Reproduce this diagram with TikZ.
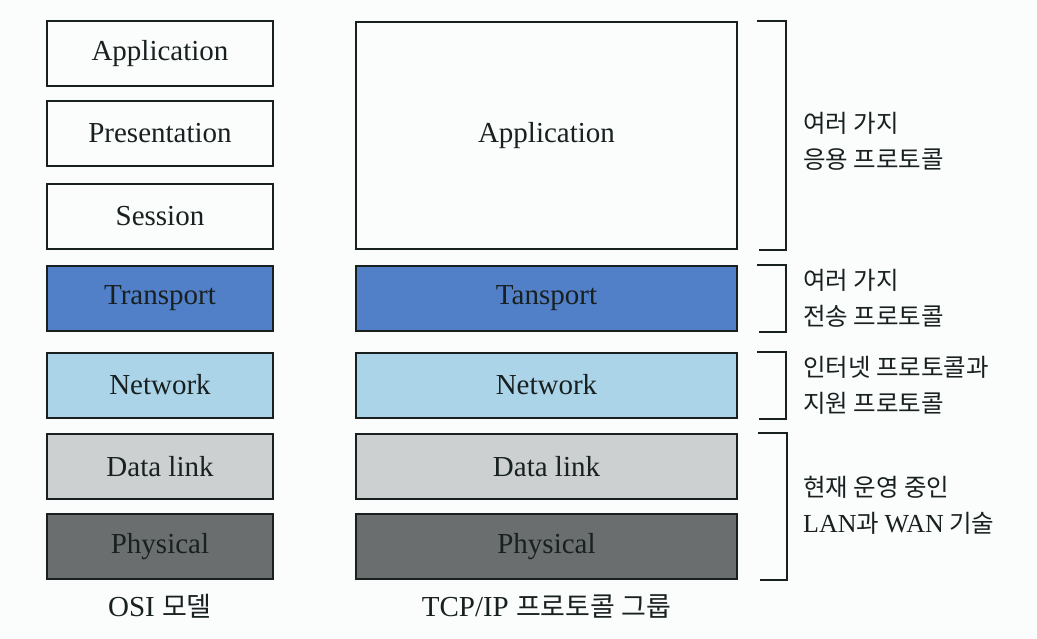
\documentclass[tikz,border=0pt]{standalone}
\usepackage{fontspec}
\setmainfont{Liberation Serif}
\newfontfamily\kr{Noto Sans CJK KR}
\usetikzlibrary{calc}
\definecolor{bg}{RGB}{251,252,252}
\definecolor{ink}{RGB}{24,32,32}
\definecolor{transp}{RGB}{82,128,200}
\definecolor{netw}{RGB}{172,212,232}
\definecolor{dlink}{RGB}{204,208,208}
\definecolor{phys}{RGB}{106,110,110}
\begin{document}
\begin{tikzpicture}[x=1pt,y=-1pt,
  layer/.style={draw=ink,line width=2pt,rectangle,inner sep=0pt,
    font=\fontsize{29}{32}\selectfont,text=ink},
  osi/.style={layer,minimum width=226pt,minimum height=65pt},
  tcp/.style={layer,minimum width=381pt,minimum height=65pt},
  brk/.style={draw=ink,line width=2pt},
  side/.style={anchor=west,align=left,font=\kr\fontsize{24.5}{36}\selectfont,text=ink,inner sep=0pt},
  caption/.style={font=\fontsize{29}{32}\selectfont,text=ink,inner sep=0pt}]
\fill[bg] (0,0) rectangle (1037,639);
\useasboundingbox (0,0) rectangle (1037,639);
% OSI
\node[osi] (oapp) at (160,54) {Application};
\node[osi] (opre) at (160,133.5) {Presentation};
\node[osi] (oses) at (160,216.5) {Session};
\node[osi,fill=transp] (otra) at (160,298.5) {Transport};
\node[osi,fill=netw] (onet) at (160,385) {Network};
\node[osi,fill=dlink] (odl) at (160,466.5) {Data link};
\node[osi,fill=phys] (ophy) at (160,546.5) {Physical};
% TCP/IP
\node[tcp,minimum height=227pt] (tapp) at (546.5,135.5) {Application};
\node[tcp,fill=transp] (ttra) at (546.5,298.5) {Tansport};
\node[tcp,fill=netw] (tnet) at (546.5,385) {Network};
\node[tcp,fill=dlink] (tdl) at (546.5,466.5) {Data link};
\node[tcp,fill=phys] (tphy) at (546.5,546.5) {Physical};
% brackets
\draw[brk] ($(tapp.north east)+(19,0)$) -- ($(tapp.north east)+(48,0)$) -- ($(tapp.south east)+(48,0)$) -- ($(tapp.south east)+(21,0)$);
\draw[brk] ($(ttra.north east)+(19,0)$) -- ($(ttra.north east)+(48,0)$) -- ($(ttra.south east)+(48,0)$) -- ($(ttra.south east)+(21,0)$);
\draw[brk] ($(tnet.north east)+(19,0)$) -- ($(tnet.north east)+(48,0)$) -- ($(tnet.south east)+(48,0)$) -- ($(tnet.south east)+(21,0)$);
\draw[brk] ($(tdl.north east)+(20,0)$) -- ($(tdl.north east)+(49,0)$) -- ($(tphy.south east)+(49,0)$) -- ($(tphy.south east)+(22,0)$);
% side labels
\node[side] (l1) at (803,141.5) {여러 가지\\응용 프로토콜};
\node[side] (l2) at (803,298.5) {여러 가지\\전송 프로토콜};
\node[side] (l3) at (803,385) {인터넷 프로토콜과\\지원 프로토콜};
\node[side] (l4) at (803,505) {현재 운영 중인\\{\rmfamily\fontsize{26}{36}\selectfont LAN}과 {\rmfamily\fontsize{26}{36}\selectfont WAN} 기술};
% captions
\node[caption] (c1) at (160,606) {OSI {\kr\fontsize{27}{30}\selectfont 모델}};
\node[caption] (c2) at (546.5,606) {TCP/IP {\kr\fontsize{27}{30}\selectfont 프로토콜 그룹}};
\end{tikzpicture}
\end{document}
